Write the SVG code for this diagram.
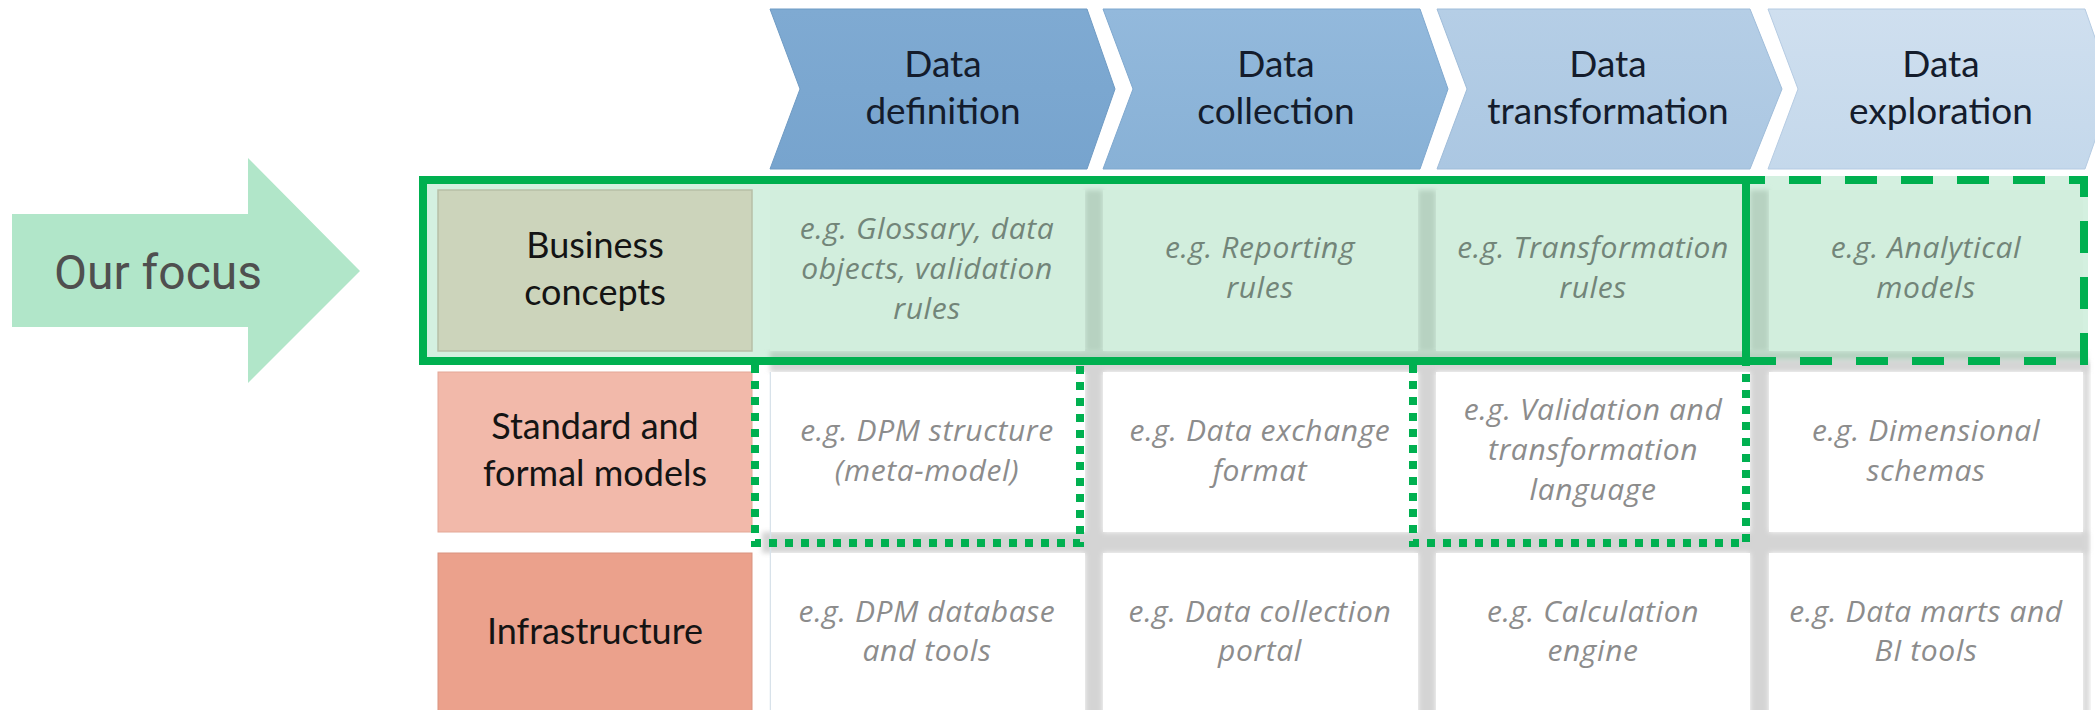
<svg xmlns="http://www.w3.org/2000/svg" width="2095" height="710" viewBox="0 0 2095 710">
  <defs>
    <filter id="soft" x="-20%" y="-20%" width="140%" height="140%">
      <feGaussianBlur stdDeviation="2.5"/>
    </filter>
    <linearGradient id="chev1" x1="0" y1="0" x2="0" y2="1">
      <stop offset="0" stop-color="#7faad2"/>
      <stop offset="1" stop-color="#77a4ce"/>
    </linearGradient>
    <linearGradient id="chev2" x1="0" y1="0" x2="0" y2="1">
      <stop offset="0" stop-color="#93b9dc"/>
      <stop offset="1" stop-color="#88b1d6"/>
    </linearGradient>
    <linearGradient id="chev3" x1="0" y1="0" x2="0" y2="1">
      <stop offset="0" stop-color="#b5cee6"/>
      <stop offset="1" stop-color="#abc7e2"/>
    </linearGradient>
    <linearGradient id="chev4" x1="0" y1="0" x2="0" y2="1">
      <stop offset="0" stop-color="#cfdfef"/>
      <stop offset="1" stop-color="#c4d8eb"/>
    </linearGradient>
  </defs>
  <style>
    .stage { font-family: Lato, "Open Sans", sans-serif; font-size: 37px; fill: #141c2c; text-anchor: middle; }
    .rowhead { font-family: Lato, "Open Sans", sans-serif; font-size: 36px; fill: #141414; text-anchor: middle; }
    .cell { font-family: "Open Sans", Lato, sans-serif; font-style: italic; font-size: 30px; letter-spacing: 0.6px; fill: #8c8c8c; text-anchor: middle; }
    .cell.focus { fill: #728579; }
    .band { fill: #d4d4d4; filter: url(#soft); }
    .band.focus { fill: #b7d2c1; }
    .white { fill: #ffffff; }
    .green { fill: #d2eedd; }
    .hl { fill: none; stroke: #00b050; stroke-width: 8; }
    .dotted { stroke-dasharray: 8 8; }
    .dashed { stroke-dasharray: 32 24; stroke-dashoffset: 13; }
  </style>

  <rect width="2095" height="710" fill="#ffffff"/>

  <!-- focus arrow -->
  <g id="focus-arrow">
    <polygon points="12,214 248,214 248,158 360,271 248,383 248,327 12,327" fill="#b1e6c9"/>
    <text x="158" y="289" font-family="Roboto, 'Liberation Sans', sans-serif" font-size="48" fill="#4f4f4f" text-anchor="middle">Our focus</text>
  </g>

  <!-- process stages -->
  <g id="stage-definition">
    <polygon points="770,9 1087,9 1115,89 1087,169 770,169 800,89" fill="url(#chev1)" stroke="#6f9bc4" stroke-width="1"/>
    <text class="stage" x="943" y="77">Data</text>
    <text class="stage" x="943" y="124">definition</text>
  </g>
  <g id="stage-collection">
    <polygon points="1103,9 1420,9 1448,89 1420,169 1103,169 1133,89" fill="url(#chev2)" stroke="#7fa8cf" stroke-width="1"/>
    <text class="stage" x="1276" y="77">Data</text>
    <text class="stage" x="1276" y="124">collection</text>
  </g>
  <g id="stage-transformation">
    <polygon points="1437,9 1750,9 1782,89 1750,169 1437,169 1467,89" fill="url(#chev3)" stroke="#9fbcd9" stroke-width="1"/>
    <text class="stage" x="1608" y="77">Data</text>
    <text class="stage" x="1608" y="124">transformation</text>
  </g>
  <g id="stage-exploration">
    <polygon points="1768,9 2085,9 2113,89 2085,169 1768,169 1798,89" fill="url(#chev4)" stroke="#b5cbe2" stroke-width="1"/>
    <text class="stage" x="1941" y="77">Data</text>
    <text class="stage" x="1941" y="124">exploration</text>
  </g>

  <!-- focus row background -->
  <rect x="419" y="176" width="1669" height="189" fill="#d4f0e0"/>

  <!-- grid gutters -->
  <g id="gutters">
    <rect class="band focus" x="1085" y="190" width="18" height="162"/>
    <rect class="band focus" x="1418" y="190" width="18" height="162"/>
    <rect class="band focus" x="1750" y="190" width="19" height="162"/>
    <rect class="band focus" x="770" y="351" width="1316" height="10"/>
    <rect class="band" x="770" y="360" width="1318" height="12"/>
    <rect class="band" x="762" y="532" width="1326" height="21"/>
    <rect class="band" x="1085" y="362" width="18" height="360"/>
    <rect class="band" x="1418" y="362" width="18" height="360"/>
    <rect class="band" x="1750" y="362" width="19" height="360"/>
    <rect class="band" x="2083" y="362" width="6" height="360"/>
    <line x1="770.5" y1="372" x2="770.5" y2="710" stroke="#d8e2ea" stroke-width="1.5"/>
  </g>

  <!-- row headers -->
  <g id="row-business">
    <rect x="438" y="190" width="314" height="161" fill="#ccd4bb" stroke="#b7bfa7" stroke-width="1.5"/>
    <text class="rowhead" x="595" y="258">Business</text>
    <text class="rowhead" x="595" y="305">concepts</text>
  </g>
  <g id="row-models">
    <rect x="438" y="372" width="314" height="160" fill="#f2b9aa" stroke="#e4a897" stroke-width="1"/>
    <text class="rowhead" x="595" y="439">Standard and</text>
    <text class="rowhead" x="595" y="486">formal models</text>
  </g>
  <g id="row-infrastructure">
    <rect x="438" y="553" width="314" height="170" fill="#eba18c" stroke="#d99380" stroke-width="1"/>
    <text class="rowhead" x="595" y="644">Infrastructure</text>
  </g>

  <!-- business concepts row -->
  <g id="cell-bc-definition">
    <rect class="green" x="770" y="190" width="315" height="161"/>
    <text class="cell focus" x="927" y="239">e.g. Glossary, data</text>
    <text class="cell focus" x="927" y="279">objects, validation</text>
    <text class="cell focus" x="927" y="319">rules</text>
  </g>
  <g id="cell-bc-collection">
    <rect class="green" x="1103" y="190" width="315" height="161"/>
    <text class="cell focus" x="1260" y="258">e.g. Reporting</text>
    <text class="cell focus" x="1260" y="298">rules</text>
  </g>
  <g id="cell-bc-transformation">
    <rect class="green" x="1436" y="190" width="314" height="161"/>
    <text class="cell focus" x="1593" y="258">e.g. Transformation</text>
    <text class="cell focus" x="1593" y="298">rules</text>
  </g>
  <g id="cell-bc-exploration">
    <rect class="green" x="1769" y="190" width="314" height="161"/>
    <text class="cell focus" x="1926" y="258">e.g. Analytical</text>
    <text class="cell focus" x="1926" y="298">models</text>
  </g>

  <!-- standard and formal models row -->
  <g id="cell-sm-definition">
    <rect class="white" x="771" y="372" width="314" height="160"/>
    <text class="cell" x="927" y="441">e.g. DPM structure</text>
    <text class="cell" x="927" y="481">(meta-model)</text>
  </g>
  <g id="cell-sm-collection">
    <rect class="white" x="1103" y="372" width="315" height="160"/>
    <text class="cell" x="1260" y="441">e.g. Data exchange</text>
    <text class="cell" x="1260" y="481">format</text>
  </g>
  <g id="cell-sm-transformation">
    <rect class="white" x="1436" y="372" width="314" height="160"/>
    <text class="cell" x="1593" y="420">e.g. Validation and</text>
    <text class="cell" x="1593" y="460">transformation</text>
    <text class="cell" x="1593" y="500">language</text>
  </g>
  <g id="cell-sm-exploration">
    <rect class="white" x="1769" y="372" width="314" height="160"/>
    <text class="cell" x="1926" y="441">e.g. Dimensional</text>
    <text class="cell" x="1926" y="481">schemas</text>
  </g>

  <!-- infrastructure row -->
  <g id="cell-in-definition">
    <rect class="white" x="771" y="553" width="314" height="170"/>
    <text class="cell" x="927" y="622">e.g. DPM database</text>
    <text class="cell" x="927" y="661">and tools</text>
  </g>
  <g id="cell-in-collection">
    <rect class="white" x="1103" y="553" width="315" height="170"/>
    <text class="cell" x="1260" y="622">e.g. Data collection</text>
    <text class="cell" x="1260" y="661">portal</text>
  </g>
  <g id="cell-in-transformation">
    <rect class="white" x="1436" y="553" width="314" height="170"/>
    <text class="cell" x="1593" y="622">e.g. Calculation</text>
    <text class="cell" x="1593" y="661">engine</text>
  </g>
  <g id="cell-in-exploration">
    <rect class="white" x="1769" y="553" width="314" height="170"/>
    <text class="cell" x="1926" y="622">e.g. Data marts and</text>
    <text class="cell" x="1926" y="661">BI tools</text>
  </g>

  <!-- highlight outlines -->
  <g id="highlights">
    <rect class="hl" x="423" y="180" width="1323" height="181"/>
    <path class="hl dashed" d="M1746,180 H2084 V361 H1746"/>
    <path class="hl dotted" d="M755,365 V543 H1080 V365"/>
    <path class="hl dotted" d="M1413,365 V543 H1746 V365"/>
  </g>
</svg>
